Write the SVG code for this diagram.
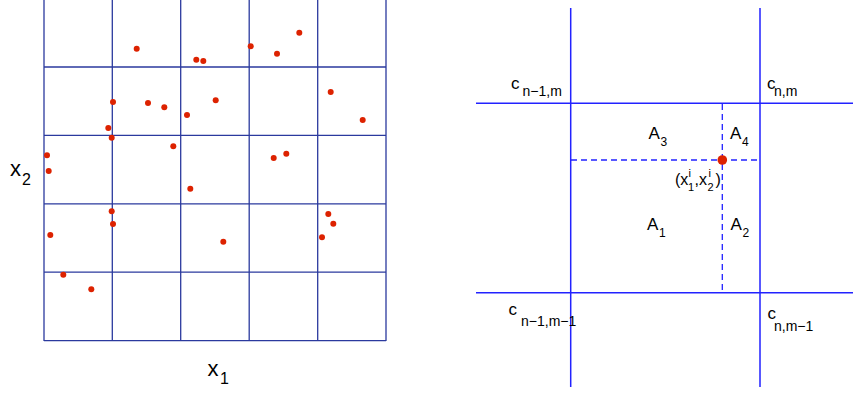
<svg xmlns="http://www.w3.org/2000/svg" width="853" height="393" viewBox="0 0 853 393">
<style>
.grid{stroke:#2b3a9e;stroke-width:1.3;fill:none}
.ax{stroke:#2222ff;stroke-width:1.5;fill:none}
.dash{stroke:#2222ff;stroke-width:1.3;stroke-dasharray:6,4;fill:none}
.pt{fill:#dd2200}
text{font-family:"Liberation Sans",Arial,sans-serif;fill:#000}
.lab{font-size:22px}
.labs{font-size:16px}
.c{font-size:17px}
.cs{font-size:14px}
.a{font-size:17px}
.as{font-size:12px}
.p{font-size:16px}
.ps{font-size:11px}
</style>
<g id="left-grid">
<path class="grid" d="M44,-1V341M112.3,-1V341M180.7,-1V341M249.2,-1V341M317.7,-1V341M386,-1V341M44,67H386M44,135.4H386M44,203.8H386M44,272.2H386M44,340.6H386"/>
</g>
<g id="left-points">
<circle class="pt" cx="136.7" cy="48.7" r="3"/>
<circle class="pt" cx="196.3" cy="59.7" r="3"/>
<circle class="pt" cx="203.3" cy="61" r="3"/>
<circle class="pt" cx="250.7" cy="46.3" r="3"/>
<circle class="pt" cx="277" cy="53.7" r="3"/>
<circle class="pt" cx="299.3" cy="32.7" r="3"/>
<circle class="pt" cx="113" cy="102" r="3"/>
<circle class="pt" cx="148" cy="103" r="3"/>
<circle class="pt" cx="164.3" cy="107.3" r="3"/>
<circle class="pt" cx="187" cy="115" r="3"/>
<circle class="pt" cx="215.7" cy="100.3" r="3"/>
<circle class="pt" cx="330.7" cy="92" r="3"/>
<circle class="pt" cx="362.7" cy="120" r="3"/>
<circle class="pt" cx="108.3" cy="128" r="3"/>
<circle class="pt" cx="111.7" cy="137.7" r="3"/>
<circle class="pt" cx="173.3" cy="146.3" r="3"/>
<circle class="pt" cx="47" cy="155.3" r="3"/>
<circle class="pt" cx="48.7" cy="171" r="3"/>
<circle class="pt" cx="273.7" cy="158" r="3"/>
<circle class="pt" cx="286.3" cy="153.7" r="3"/>
<circle class="pt" cx="190.3" cy="188.7" r="3"/>
<circle class="pt" cx="111.7" cy="211.3" r="3"/>
<circle class="pt" cx="113" cy="224" r="3"/>
<circle class="pt" cx="50.3" cy="235" r="3"/>
<circle class="pt" cx="223.3" cy="241.7" r="3"/>
<circle class="pt" cx="328.3" cy="214" r="3"/>
<circle class="pt" cx="333.3" cy="223.7" r="3"/>
<circle class="pt" cx="322" cy="237.3" r="3"/>
<circle class="pt" cx="63.3" cy="274.7" r="3"/>
<circle class="pt" cx="91.3" cy="289.3" r="3"/>
</g>
<g id="left-labels">
<text class="lab" x="10" y="176">x</text><text class="labs" x="22" y="185">2</text>
<text class="lab" x="207.5" y="376">x</text><text class="labs" x="220" y="384">1</text>
</g>
<g id="right-lines">
<path class="ax" d="M570.7,8V387M760,8V387M476,103.3H853M476,292.7H853"/>
<path class="dash" d="M571,160H758M722.3,104V292"/>
</g>
<g id="right-point">
<circle class="pt" cx="722.3" cy="160" r="4.8"/>
</g>
<g id="right-labels">
<text class="c" x="511" y="89">c</text><text class="cs" x="522.5" y="96">n−1,m</text>
<text class="c" x="767" y="89">c</text><text class="cs" x="774" y="96">n,m</text>
<text class="c" x="508.5" y="315">c</text><text class="cs" x="521" y="326">n−1,m−1</text>
<text class="c" x="767.5" y="319">c</text><text class="cs" x="774" y="331">n,m−1</text>
<text class="a" x="648.5" y="139">A</text><text class="as" x="660.5" y="146">3</text>
<text class="a" x="730" y="139">A</text><text class="as" x="742" y="146">4</text>
<text class="a" x="647" y="229.5">A</text><text class="as" x="659" y="236.5">1</text>
<text class="a" x="730.5" y="229.5">A</text><text class="as" x="742.5" y="236.5">2</text>
<text class="p" x="675" y="185">(x</text><text class="ps" x="688.5" y="177">i</text><text class="ps" x="688" y="191">1</text><text class="p" x="694.5" y="185">,x</text><text class="ps" x="708.5" y="177">i</text><text class="ps" x="707.5" y="191">2</text><text class="p" x="715.5" y="185">)</text>
</g>
</svg>
